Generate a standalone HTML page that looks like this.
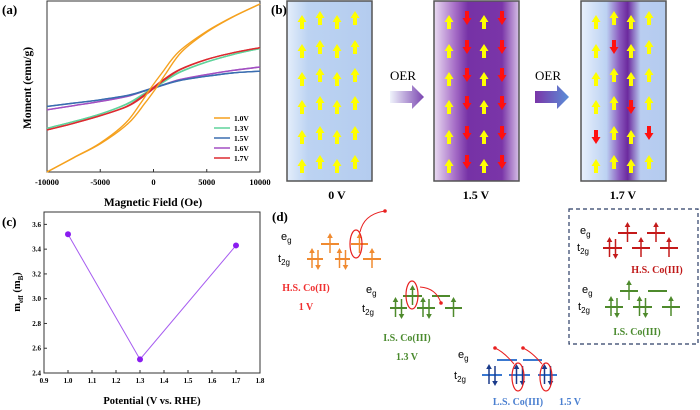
<!DOCTYPE html>
<html><head><meta charset="utf-8">
<style>
html,body{margin:0;padding:0;background:#fff;width:700px;height:410px;overflow:hidden}
svg text{font-family:"Liberation Serif",serif;font-weight:bold}
.sans{font-family:"Liberation Sans",sans-serif!important;font-weight:normal!important}
</style></head>
<body>
<svg id="fig" width="700" height="410" viewBox="0 0 700 410" xmlns="http://www.w3.org/2000/svg">
<defs>
<linearGradient id="g1" x1="0" x2="1"><stop offset="0" stop-color="#e4eefb"/><stop offset="0.25" stop-color="#bcd3f2"/><stop offset="1" stop-color="#b4ccef"/></linearGradient>
<linearGradient id="g2" x1="0" x2="1"><stop offset="0" stop-color="#eadcf2"/><stop offset="0.25" stop-color="#a56cc6"/><stop offset="0.4" stop-color="#7632a6"/><stop offset="0.8" stop-color="#7a35a8"/><stop offset="1" stop-color="#d6bfe6"/></linearGradient>
<linearGradient id="g3" x1="0" x2="1"><stop offset="0" stop-color="#e8f0fc"/><stop offset="0.3" stop-color="#bcd2f2"/><stop offset="0.45" stop-color="#8b5cc0"/><stop offset="0.55" stop-color="#6c2a9e"/><stop offset="0.7" stop-color="#b9cdf0"/><stop offset="1" stop-color="#b4ccef"/></linearGradient>
<linearGradient id="ga1" x1="0" x2="1"><stop offset="0" stop-color="#f0f4fc"/><stop offset="1" stop-color="#7a45b0"/></linearGradient>
<linearGradient id="ga2" x1="0" x2="1"><stop offset="0" stop-color="#7a35a8"/><stop offset="1" stop-color="#5a8fd8"/></linearGradient>
</defs>

<g id="pa">
<text x="2" y="14" font-size="13">(a)</text>
<rect x="47" y="1" width="213" height="171" fill="none" stroke="#333" stroke-width="1"/>
<text x="153" y="206" font-size="11.5" text-anchor="middle">Magnetic Field (Oe)</text>
<text transform="translate(31,88) rotate(-90)" font-size="11.5" text-anchor="middle">Moment (emu/g)</text>
</g>

<g id="pc">
<text x="2" y="226" font-size="13">(c)</text>
<rect x="44" y="212" width="216" height="161" fill="none" stroke="#333" stroke-width="1"/>
<text x="152" y="404" font-size="10.5" text-anchor="middle">Potential (V vs. RHE)</text>
<text transform="translate(20,292) rotate(-90)" font-size="10.5" text-anchor="middle">m<tspan font-size="7" dy="3">eff</tspan><tspan dy="-3"> (m</tspan><tspan font-size="7" dy="3">B</tspan><tspan dy="-3">)</tspan></text>
</g>

<g id="pb">
<text x="271" y="14" font-size="13">(b)</text>
<rect x="287" y="1" width="85" height="180" fill="url(#g1)" stroke="#555" stroke-width="1.5"/>
<rect x="434" y="1" width="85" height="180" fill="url(#g2)" stroke="#555" stroke-width="1.5"/>
<rect x="581" y="1" width="85" height="180" fill="url(#g3)" stroke="#555" stroke-width="1.5"/>
<text x="337" y="199" font-size="12" text-anchor="middle">0 V</text>
<text x="476" y="199" font-size="12" text-anchor="middle">1.5 V</text>
<text x="623" y="199" font-size="12" text-anchor="middle">1.7 V</text>
<text x="403" y="80" font-size="13" text-anchor="middle" style="font-weight:normal">OER</text>
<text x="548" y="80" font-size="13" text-anchor="middle" style="font-weight:normal">OER</text>
<polygon points="390,91 412,91 412,85 424,97 412,109 412,103 390,103" fill="url(#ga1)"/>
<polygon points="535,91 557,91 557,85 569,97 557,109 557,103 535,103" fill="url(#ga2)"/>
</g>

<g id="pd">
<text x="272" y="221" font-size="13">(d)</text>
<rect x="569" y="209" width="129" height="135" fill="none" stroke="#2c3e66" stroke-width="1.2" stroke-dasharray="4,3"/>
<text x="306" y="291" font-size="10" fill="#f03030" text-anchor="middle">H.S. Co(II)</text>
<text x="306" y="310" font-size="10" fill="#f03030" text-anchor="middle">1 V</text>
<text x="407" y="341" font-size="10" fill="#4a8a2e" text-anchor="middle">I.S. Co(III)</text>
<text x="407" y="360" font-size="10" fill="#4a8a2e" text-anchor="middle">1.3 V</text>
<text x="518" y="405" font-size="10" fill="#4a7fd0" text-anchor="middle">L.S. Co(III)</text>
<text x="570" y="405" font-size="10" fill="#4a7fd0" text-anchor="middle">1.5 V</text>
<text x="657" y="273" font-size="10" fill="#c01818" text-anchor="middle">H.S. Co(III)</text>
<text x="637" y="335" font-size="10" fill="#4a8a2e" text-anchor="middle">I.S. Co(III)</text>
</g>
</svg>
<script>
// ---------- Panel a data ----------
const fieldH = [-10000,-7500,-5000,-2500,-1000,0,1000,2500,5000,7500,10000];
const seriesNames = ['1.0V','1.3V','1.5V','1.6V','1.7V'];
const m10 = [-100,-83,-66,-42,-18,0,18,43,67,85,100];
const m13 = [-48,-40,-31,-19,-8,0,8,19,31,40,47];
const m15 = [-22,-18,-14,-9,-4,0,4,9,14,18,20];
const m16 = [-26,-21,-16,-10,-4,0,4,10,16,21,25];
const m17 = [-50,-42,-33,-22,-10,0,10,22,34,42,48];
const xTicksA = [-10000,-5000,0,5000,10000];
// ---------- Panel c data ----------
const potentials = [1.0,1.3,1.7];
const meff = [3.52,2.51,3.43];
const xTicksC = [0.9,1.0,1.1,1.2,1.3,1.4,1.5,1.6,1.7,1.8];
const yTicksC = [2.4,2.6,2.8,3.0,3.2,3.4,3.6];

const NS='http://www.w3.org/2000/svg';
function mk(parent,tag,attrs){const e=document.createElementNS(NS,tag);for(const k in attrs)e.setAttribute(k,attrs[k]);parent.appendChild(e);return e;}
function smooth(p){
 let d='M'+p[0][0]+','+p[0][1];
 for(let i=0;i<p.length-1;i++){
  const p0=p[i-1]||p[i],p1=p[i],p2=p[i+1],p3=p[i+2]||p2;
  const c1=[p1[0]+(p2[0]-p0[0])/6,p1[1]+(p2[1]-p0[1])/6];
  const c2=[p2[0]-(p3[0]-p1[0])/6,p2[1]-(p3[1]-p1[1])/6];
  d+=` C${c1[0]},${c1[1]} ${c2[0]},${c2[1]} ${p2[0]},${p2[1]}`;
 }
 return d;
}

(function(){
 const g=document.getElementById('pa');
 const xa=h=>47+(h+10000)/20000*213;
 const ya=m=>88-m/100*84;
 xTicksA.forEach(t=>{
  const tk=mk(g,'line',{x1:xa(t),x2:xa(t),y1:172,y2:169,stroke:'#333'});
  
  
  const lb=mk(g,'text',{x:xa(t),y:185,'font-size':8.5,'text-anchor':'middle'});
  lb.textContent=t;
  
  
 });
 const cols=['#f5a11e','#5fd39b','#3a6db0','#a24fc2','#dc2a30'];
 const data=[m10,m13,m15,m16,m17];
 [3,2,1,4,0].forEach(i=>{
  const vals=data[i];
  const off=i===0?250:80;
  [-1,1].forEach(sgn=>{
   const pts=fieldH.map((h,j)=>[xa(h+sgn*off*Math.pow(1-Math.abs(h)/10000,2)),ya(vals[j])]);
   const pl=mk(g,'path',{d:smooth(pts),fill:'none',stroke:cols[i],'stroke-width':1.4});
   
   
  });
 });
 seriesNames.forEach((n,i)=>{
  const y=118+i*10;
  const ln=mk(g,'line',{x1:214,x2:230,y1:y,y2:y,stroke:cols[i],'stroke-width':1.5});
  
  
  const t=mk(g,'text',{x:234,y:y+3,'font-size':7.5});
  t.textContent=n;
  
  
 });
})();

(function(){
 const g=document.getElementById('pc');
 const xc=v=>44+(v-0.9)/0.9*216;
 const yc=v=>373-(v-2.4)/1.3*161;
 xTicksC.forEach(t=>{
  const tk=mk(g,'line',{x1:xc(t),x2:xc(t),y1:373,y2:370,stroke:'#333'});
  
  
  const lb=mk(g,'text',{x:xc(t),y:383,'font-size':7,'text-anchor':'middle'});
  lb.textContent=t.toFixed(1);
  
  
 });
 yTicksC.forEach(t=>{
  const tk=mk(g,'line',{x1:44,x2:47,y1:yc(t),y2:yc(t),stroke:'#333'});
  
  
  const lb=mk(g,'text',{x:41,y:yc(t)+2.5,'font-size':7,'text-anchor':'end'});
  lb.textContent=t.toFixed(1);
  
  
 });
 const pl=mk(g,'polyline',{points:potentials.map((p,i)=>xc(p)+','+yc(meff[i])).join(' '),fill:'none',stroke:'#a65cf0','stroke-width':1});
 
 
 potentials.forEach((p,i)=>{
  const c=mk(g,'circle',{cx:xc(p),cy:yc(meff[i]),r:3,fill:'#8a1cf0'});
  
  
 });
})();

(function(){
 const g=document.getElementById('pb');
 function arrow(x,y,up,col){
  const s=up?1:-1;
  const p=[[x-2,y+7*s],[x+2,y+7*s],[x+2,y],[x+4.5,y],[x,y-7*s],[x-4.5,y],[x-2,y]];
  const a=mk(g,'polygon',{points:p.map(q=>q.join(',')).join(' '),fill:col});
  
  
 }
 const colsX=[15,33,50,68];
 const rowsY=[22,51,79,107,137,166];
 const slabs=[287,434,581];
 const pattern=[
  ['uuuu','uuuu','uuuu','uuuu','uuuu','uuuu'],
  ['udud','udud','udud','udud','udud','udud'],
  ['uuuu','uduu','uuuu','uudu','duud','uuuu']];
 slabs.forEach((sx,k)=>{
  rowsY.forEach((ry,r)=>{
   colsX.forEach((cx,c)=>{
    const ch=pattern[k][r][c];
    const yy=ry+(c%2===1?-4:0);
    arrow(sx+cx,yy,ch==='u',ch==='u'?'#ffff00':'#ff1010');
   });
  });
 });
})();

(function(){
 const g=document.getElementById('pd');
 function lvl(x1,x2,y,col){const l=mk(g,'line',{x1:x1,x2:x2,y1:y,y2:y,stroke:col,'stroke-width':2});
  
  }
 function sp(x,y,up,col){
  const s=up?1:-1;
  const l=mk(g,'line',{x1:x,x2:x,y1:y+9*s,y2:y-7*s,stroke:col,'stroke-width':1.5});
  
  
  const h=mk(g,'polygon',{points:`${x-2.8},${y-6*s} ${x+2.8},${y-6*s} ${x},${y-11*s}`,fill:col});
  
  
 }
 function cfg(col,lcol,ty,ey,tl,el,tocc,eocc){
  tl.forEach(s=>lvl(s[0],s[1],ty,lcol));
  el.forEach(s=>lvl(s[0],s[1],ey,lcol));
  tl.forEach((s,i)=>{const m=(s[0]+s[1])/2;
   if(tocc[i]===2){sp(m-3,ty,true,col);sp(m+3,ty,false,col);}else if(tocc[i]===1)sp(m,ty,true,col);});
  el.forEach((s,i)=>{const m=(s[0]+s[1])/2;
   if(eocc[i]===1)sp(m,ey,true,col);});
 }
 function lab(x,y,sub){const t=mk(g,'text',{x:x,y:y,'font-size':11,class:'sans'});
  
  
  t.innerHTML=sub==='g'?'e<tspan font-size="8" dy="3">g</tspan>':'t<tspan font-size="8" dy="3">2g</tspan>';}
 cfg('#f08a30','#f08a30',259,244,[[307,323],[335,350],[363,381]],[[321,339],[351,368]],[2,2,1],[1,1]);
 lab(281,240,'g');lab(278,262,'t');
 cfg('#4e8a2c','#4e8a2c',308,296,[[390,407],[417,435],[445,462]],[[403,422],[432,450]],[2,2,1],[1,0]);
 lab(366,293,'g');lab(362,312,'t');
 cfg('#1a3a8a','#3a78d0',375,360,[[482,502],[509,530],[538,557]],[[497,517],[523,542]],[2,2,2],[0,0]);
 lab(458,358,'g');lab(454,379,'t');
 cfg('#c41a1a','#c41a1a',248,233,[[603,622],[632,650],[660,678]],[[618,637],[647,665]],[2,1,1],[1,1]);
 lab(580,234,'g');lab(577,251,'t');
 cfg('#4e8a2c','#4e8a2c',307,291,[[605,623],[633,652],[662,680]],[[620,638],[648,667]],[2,2,1],[1,0]);
 lab(582,293,'g');lab(578,310,'t');
 const ell=[[356,244],[412,295],[518,377],[546,377]];
 ell.forEach(e=>{const c=mk(g,'ellipse',{cx:e[0],cy:e[1],rx:6,ry:14,fill:'none',stroke:'#e82020','stroke-width':1.2});
  
  });
 const curves=[['M360,232 Q364,214 385,211','385,211'],['M420,287 Q436,288 441,303','441,303'],['M514,364 Q504,352 495,348','495,348'],['M542,364 Q532,352 523,348','523,348']];
 curves.forEach(c=>{const p=mk(g,'path',{d:c[0],fill:'none',stroke:'#e82020','stroke-width':1});
  
  
  const [x,y]=c[1].split(',').map(Number);
  const h=mk(g,'circle',{cx:x,cy:y,r:1.8,fill:'#e82020'});
  
  });
})();
</script>
</body></html>
